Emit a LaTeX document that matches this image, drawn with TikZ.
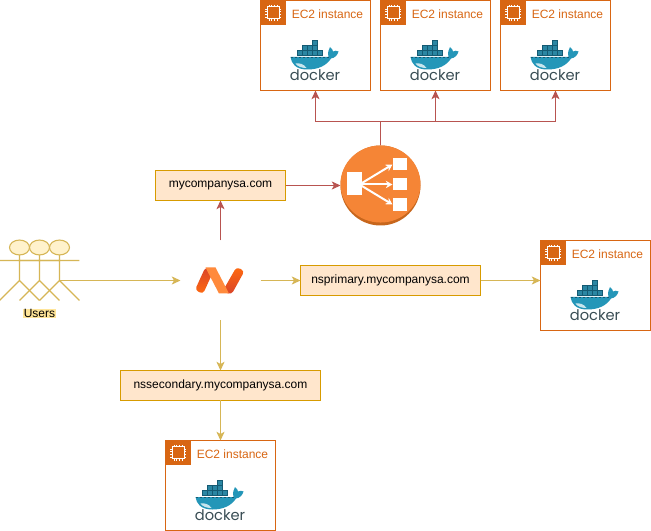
\documentclass[tikz,border=0pt]{standalone}
\usepackage{fontspec}
\setmainfont{Liberation Sans}
\newfontfamily\dockerfont{Poppins}
\usetikzlibrary{arrows.meta,calc}
\definecolor{ecorange}{HTML}{D86613}
\definecolor{redline}{HTML}{B85450}
\definecolor{yelline}{HTML}{D6B656}
\definecolor{boxfill}{HTML}{FFE6CC}
\definecolor{boxline}{HTML}{D79B00}
\definecolor{actorfill}{HTML}{FFF2CC}
\definecolor{whale}{HTML}{2496B8}
\definecolor{crate}{HTML}{2A86A3}
\definecolor{crateline}{HTML}{145A73}
\definecolor{dockertext}{HTML}{394D54}
\definecolor{lbface}{HTML}{F58536}
\definecolor{lbrim}{HTML}{C7661C}
\definecolor{ncmain}{HTML}{FF6A10}
\definecolor{ncmid}{HTML}{FF8A3C}
\definecolor{ncdark}{HTML}{D8432A}
\definecolor{userbg}{HTML}{FFE599}
\tikzset{
  x=0.75pt,y=-0.75pt,
  every node/.style={font=\fontsize{9pt}{11pt}\selectfont,inner sep=0pt,outer sep=0pt},
  ecframe/.style={draw=ecorange,line width=0.8pt,fill=white,minimum width=82.5pt,minimum height=67.5pt,anchor=north west},
  domainbox/.style={draw=boxline,line width=0.8pt,fill=boxfill,minimum height=22.5pt},
  redarrow/.style={draw=redline,line width=0.8pt,-{Stealth[length=6.5pt,width=6pt,inset=1.6pt]}},
  redplain/.style={draw=redline,line width=0.8pt},
  yelarrow/.style={draw=yelline,line width=0.8pt,-{Stealth[length=6.5pt,width=6pt,inset=1.6pt]}},
  actorline/.style={draw=yelline,line width=0.8pt},
  lbarrow/.style={draw=white,line width=1.5pt,-{Stealth[length=5pt,width=5.5pt]}},
}
\newcommand{\ecinstance}[3]{%
  \node[ecframe] (#1) at (#2,#3) {};
  \begin{scope}[shift={(#2,#3)}]
    \fill[ecorange] (0,0) rectangle (25,25);
    \draw[white,line width=0.75pt] (6.5,6.5) rectangle (18.5,18.5);
    \foreach \t in {8.5,11,14,16.5}{
      \draw[white,line width=0.5pt] (\t,4.5) -- (\t,6.5) (\t,18.5) -- (\t,20.5) (4.5,\t) -- (6.5,\t) (18.5,\t) -- (20.5,\t);
    }
    \node[text=ecorange] at (67,14) {EC2 instance};
    \foreach \cx/\cy in {52/40,42/45,47/45,52/45,37/50,42/50,47/50,52/50,57/50}{
      \fill[crate,draw=crateline,line width=0.25pt] (\cx,\cy) rectangle +(5,5);
    }
    \fill[whale] (30,56.5) -- (68,56.5) .. controls (67,52) and (68,49) .. (69.5,46.5)
      .. controls (71.5,48) and (72.5,50) .. (72.5,51) .. controls (74.5,50) and (76,50) .. (78,51)
      .. controls (77,55) and (74,57.5) .. (70.5,58) .. controls (66,65) and (58,69) .. (47,69)
      .. controls (35,69) and (31,63) .. (30,56.5) -- cycle;
    \fill[white!75!whale] (35,63) .. controls (39,62) and (44,64) .. (46,67.5) .. controls (41,67.5) and (37,66) .. (35,63) -- cycle;
    \draw[crateline,line width=0.4pt,dash pattern=on 2pt off 1pt] (30,57) -- (68,57);
    \node[text=dockertext,font=\dockerfont\fontsize{11pt}{13pt}\selectfont] at (54.5,75) {docker};
  \end{scope}
}
\newcommand{\stickman}[1]{%
  \draw[actorline,fill=actorfill] (#1,247) ellipse (7.5pt and 5.6pt);
  \draw[actorline] (#1,254.5) -- (#1,280) (#1-20,260) -- (#1+20,260)
    (#1-20,300) -- (#1,280) -- (#1+20,300);
}
\begin{document}
\begin{tikzpicture}
\useasboundingbox (0.5,-0.5) rectangle (651.5,530.5);
\fill[white] (0.5,-0.5) rectangle (651.5,530.5);

% EC2 boxes
\ecinstance{econe}{261}{0}
\ecinstance{ectwo}{381}{0}
\ecinstance{ecthree}{501}{0}
\ecinstance{ecfour}{541}{240}
\ecinstance{ecfive}{166}{440}

% Load balancer
\node[circle,minimum size=60pt] (lb) at (381,185) {};
\fill[lbrim] (381,185) circle (30pt);
\fill[lbface] (381,183.5) ellipse (30pt and 28.9pt);
\fill[white] (347,172) rectangle (362,195);
\fill[white] (393,158) rectangle (407,170);
\fill[white] (393,178) rectangle (407,190);
\fill[white] (393,198) rectangle (407,211);
\draw[lbarrow] (360,184) -- (393,164);
\draw[lbarrow] (360,184) -- (393,184);
\draw[lbarrow] (360,184) -- (393,204);

% Domain boxes
\node[domainbox,minimum width=97.5pt] (site) at (221,185) {mycompanysa.com};
\node[domainbox,minimum width=135pt] (prim) at (391,280) {nsprimary.mycompanysa.com};
\node[domainbox,minimum width=150pt] (sec) at (221,385) {nssecondary.mycompanysa.com};

% Namecheap logo
\node[minimum size=60pt] (nc) at (221,280) {};
\shade[top color=ncdark,bottom color=ncmain,rounded corners=2.6pt]
  (206,266.5) -- (214,270.5) -- (203.5,293.5) -- (195.5,289.5) -- cycle;
\shade[top color=ncmain,bottom color=ncdark,rounded corners=2.6pt]
  (237,266.5) -- (245,270.5) -- (232,294) -- (223,291) -- cycle;
\fill[ncmid] (206,267) -- (216,267) -- (229.5,293) -- (219.5,293) -- cycle;

% Users
\stickman{20}
\stickman{40}
\stickman{60}
\coordinate (userout) at (60,280);
\node[fill=userbg,inner xsep=0.5pt,inner ysep=0.5pt] (users) at (40,313) {Users};

% Connectors
\coordinate (lbjoin) at (lb.north |- 0,121);
\draw[redplain] (lb.north) -- (lbjoin);
\draw[redarrow] (lbjoin) -| (econe.south);
\draw[redarrow] (lbjoin) -| (ecthree.south);
\draw[redarrow] (lbjoin -| ectwo.south) -- (ectwo.south);
\draw[redarrow] (site.east) -- (lb.west);
\draw[redarrow] (nc.north) -- (site.south);
\draw[yelarrow] (userout) -- (nc.west);
\draw[yelarrow] (nc.east) -- (prim.west);
\draw[yelarrow] (prim.east) -- (prim.east -| ecfour.west);
\draw[yelarrow] (nc.south) -- (sec.north);
\draw[yelarrow] (sec.south) -- (ecfive.north);
\end{tikzpicture}
\end{document}
